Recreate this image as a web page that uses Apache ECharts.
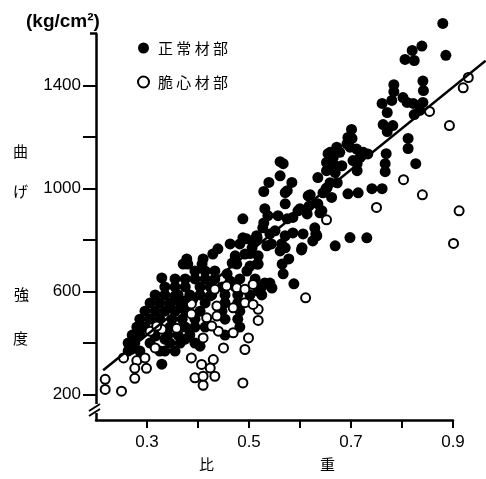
<!DOCTYPE html>
<html>
<head>
<meta charset="utf-8">
<script src="https://cdn.jsdelivr.net/npm/echarts@6/dist/echarts.min.js"></script>
<style>
  html, body { margin: 0; padding: 0; background: #fff; }
  #chart { width: 486px; height: 479px; }
</style>
</head>
<body>
<div id="chart"></div>
<script>
// 比重 vs 曲げ強度 (kg/cm2)
var normalUpper = [
  [0.880,1641],[0.886,1517],[0.839,1553],[0.820,1536],[0.806,1501],[0.824,1497],
  [0.784,1403],[0.784,1376],[0.841,1417],[0.842,1380],[0.802,1353],[0.810,1334],
  [0.822,1330],[0.761,1330],[0.780,1342],[0.841,1334],[0.771,1295],[0.824,1287],
  [0.835,1303],[0.763,1248],[0.782,1244],[0.771,1221],
  [0.701,1229],[0.694,1198],[0.702,1194],[0.692,1173],[0.672,1160],[0.659,1140],
  [0.678,1140],[0.665,1119],[0.711,1153],[0.724,1140],[0.733,1134],[0.652,1101],
  [0.669,1088],[0.704,1108],[0.718,1121],[0.698,1160],[0.655,1135],[0.712,1096],
  [0.712,1069],[0.682,1088],[0.669,1061],[0.673,1022],[0.653,1003],
  [0.812,1194],[0.812,1155],[0.769,1135],[0.767,1096],[0.767,1065],[0.827,1096],
  [0.652,1069],[0.635,1042],[0.659,1022],[0.651,999],[0.662,965],[0.694,979],
  [0.714,983],[0.741,999],[0.761,999],[0.645,983]
];

var normalMiddle = [
  [0.561,1104],[0.561,1049],[0.539,1023],[0.584,1023],[0.529,988],[0.571,984],
  [0.620,975],[0.571,940],[0.531,921],[0.596,913],[0.537,894],[0.557,894],
  [0.575,882],[0.614,901],[0.635,940],[0.643,913],[0.616,971],[0.618,932],
  [0.639,905],[0.600,921],[0.529,866],[0.551,835],[0.571,816],[0.586,827],
  [0.606,823],[0.629,847],[0.633,816],[0.625,796],[0.669,777],[0.698,809],
  [0.731,808],[0.516,808],[0.535,777],[0.604,769],[0.631,823],[0.603,761],
  [0.571,769],[0.578,726],[0.567,668],[0.588,629],[0.565,706],[0.586,887],
  [0.567,1096],[0.575,991],
  [0.488,882],[0.527,847],[0.541,823],[0.515,816],[0.495,804],[0.508,796],
  [0.482,784],[0.463,784],[0.544,784],[0.564,784],[0.439,765],[0.429,745],
  [0.473,738],[0.492,745],[0.502,747],[0.518,738],[0.410,726],[0.378,726],
  [0.488,808],[0.512,804],[0.506,769],[0.518,706],[0.380,706],[0.408,706],
  [0.561,757],[0.541,632],[0.545,613],[0.531,632],[0.457,668],[0.476,706],
  [0.496,679],[0.516,706],[0.329,652],[0.371,706],[0.329,317],[0.270,375],
  [0.502,698],[0.467,710]
];

var normalDense = [
  [0.394,679],[0.414,679],[0.433,679],
  [0.355,648],[0.375,648],[0.394,648],[0.414,648],[0.433,648],[0.463,640],[0.482,648],[0.512,648],
  [0.335,617],[0.355,617],[0.375,617],[0.404,617],[0.424,617],[0.447,617],[0.473,617],[0.525,617],
  [0.518,601],[0.355,582],[0.424,582],
  [0.316,586],[0.335,586],[0.361,586],[0.384,586],[0.404,586],[0.427,586],[0.453,586],[0.478,586],[0.502,586],[0.525,586],
  [0.306,555],[0.325,555],[0.345,555],[0.365,555],[0.390,570],[0.414,555],[0.453,555],[0.478,555],
  [0.345,543],[0.375,562],
  [0.296,523],[0.316,523],[0.335,523],[0.355,523],[0.375,523],[0.404,523],[0.447,523],[0.482,523],
  [0.286,492],[0.306,492],[0.325,492],[0.349,492],[0.369,492],[0.394,492],[0.453,492],[0.478,492],
  [0.280,461],[0.296,461],[0.345,461],[0.375,461],[0.394,461],[0.414,461],[0.482,461],
  [0.286,465],[0.316,426],[0.335,414],[0.375,414],
  [0.271,430],[0.286,430],[0.341,430],[0.361,430],[0.384,430],[0.453,430],
  [0.263,399],[0.276,399],[0.306,399],[0.345,399],[0.365,399],[0.394,399],[0.404,387],
  [0.263,368],[0.286,368],[0.335,368],[0.355,368],[0.325,368]
];

var brittlePoints = [
  [0.218,258],[0.218,219],[0.250,212],[0.254,341],[0.280,331],[0.276,301],[0.276,262],
  [0.299,301],[0.296,341],[0.316,380],[0.329,453],[0.306,445],[0.319,465],[0.358,457],
  [0.387,512],[0.387,551],[0.387,341],[0.394,264],[0.407,316],[0.430,335],[0.424,302],
  [0.410,270],[0.433,270],[0.410,235],[0.450,380],[0.469,439],[0.492,374],[0.499,419],
  [0.488,244],[0.518,530],[0.518,487],[0.410,419],[0.440,445],[0.417,497],[0.437,543],
  [0.469,536],[0.492,556],[0.508,549],[0.437,504],[0.433,608],[0.456,621],[0.476,614],
  [0.492,608],[0.508,627],[0.427,465],
  [0.652,878],[0.611,575],[0.750,926],[0.803,1034],[0.840,975],[0.912,913],[0.901,786],
  [0.893,1244],[0.854,1299],[0.930,1431],[0.920,1391]
];

var regressionLine = [[0.214, 293], [0.964, 1496]];

var xTicks = [0.3, 0.4, 0.5, 0.6, 0.7, 0.8, 0.9];
var xLabels = [0.3, 0.5, 0.7, 0.9];
var yTicks = [200, 400, 600, 800, 1000, 1200, 1400];
var yLabels = [200, 600, 1000, 1400];

var latin = '"Liberation Sans", Arial, sans-serif';
var cjk = '"Noto Sans CJK JP", sans-serif';

// the visible axes end at 0.9; marks live on a wider twin grid with the same scale
// so the points and the fitted line can run past the axis end like the original
var plotLeft = 96, axisRight = 33, chartW = 486;
var xMin = 0.2, xMax = 0.9;
var pxPerUnit = (chartW - plotLeft - axisRight) / (xMax - xMin);
var wideMax = xMin + (chartW - plotLeft) / pxPerUnit;

var chart = echarts.init(document.getElementById('chart'));

var vertText = function (ch, x, y) {
  return {
    type: 'text', left: x, top: y,
    style: { text: ch, font: '15px ' + cjk, fill: '#000' }
  };
};

var hiddenAxis = {
  show: false, splitLine: { show: false }
};

chart.setOption({
  animation: false,
  grid: [
    { left: plotLeft, right: axisRight, top: 34, bottom: 59 },
    { left: plotLeft, right: 0, top: 34, bottom: 59 }
  ],
  legend: {
    orient: 'vertical',
    left: 137, top: 40, padding: 0,
    itemWidth: 11, itemHeight: 11, itemGap: 18,
    icon: 'circle',
    data: ['正常材部', '脆心材部'],
    formatter: function (name) { return name.split('').join(' '); },
    textStyle: { fontFamily: cjk, fontSize: 15, color: '#000', lineHeight: 16, padding: [0, 0, 0, 4] }
  },
  xAxis: [
    {
      type: 'value', min: xMin, max: xMax, gridIndex: 0,
      splitLine: { show: false },
      axisLine: { lineStyle: { color: '#000', width: 2.5 } },
      axisTick: { customValues: xTicks, length: 8, lineStyle: { color: '#000', width: 2 } },
      axisLabel: {
        customValues: xLabels, margin: 14,
        fontFamily: latin, fontSize: 17, color: '#000',
        formatter: function (v) { return v.toFixed(1); }
      }
    },
    Object.assign({ type: 'value', min: xMin, max: wideMax, gridIndex: 1 }, hiddenAxis)
  ],
  yAxis: [
    {
      type: 'value', min: 100, max: 1600, gridIndex: 0,
      splitLine: { show: false },
      axisLine: { lineStyle: { color: '#000', width: 2.5 } },
      axisTick: { customValues: yTicks, length: 13, lineStyle: { color: '#000', width: 2 } },
      axisLabel: {
        customValues: yLabels, margin: 15,
        fontFamily: latin, fontSize: 17, color: '#000',
        formatter: function (v) { return String(v); }
      }
    },
    Object.assign({ type: 'value', min: 100, max: 1600, gridIndex: 1 }, hiddenAxis)
  ],
  graphic: [
    { type: 'text', left: 26, top: 12, style: { text: '(kg/cm²)', font: 'bold 19px ' + latin, fill: '#000' } },
    vertText('曲', 13, 144),
    vertText('げ', 13, 184),
    vertText('強', 14, 287),
    vertText('度', 13, 331),
    vertText('比', 199, 457),
    vertText('重', 320, 457),
    { type: 'line', shape: { x1: 90, y1: 33.5, x2: 97, y2: 33.5 }, style: { stroke: '#000', lineWidth: 2.5 } },
    { type: 'rect', shape: { x: 93, y: 404, width: 8, height: 9 }, style: { fill: '#fff' }, z: 50 },
    { type: 'line', shape: { x1: 89, y1: 411, x2: 100, y2: 404 }, style: { stroke: '#000', lineWidth: 2 }, z: 51 },
    { type: 'line', shape: { x1: 89, y1: 416, x2: 100, y2: 409 }, style: { stroke: '#000', lineWidth: 2 }, z: 51 }
  ],
  series: [
    {
      name: '正常材部', type: 'scatter', symbolSize: 11,
      xAxisIndex: 1, yAxisIndex: 1, clip: false,
      itemStyle: { color: '#000', opacity: 1 },
      data: normalUpper.concat(normalMiddle, normalDense)
    },
    {
      name: '脆心材部', type: 'scatter', symbolSize: 9,
      xAxisIndex: 1, yAxisIndex: 1, clip: false,
      itemStyle: { color: '#fff', borderColor: '#000', borderWidth: 2, opacity: 1 },
      data: brittlePoints
    },
    {
      type: 'line', data: regressionLine, symbol: 'none', clip: false, z: 5,
      xAxisIndex: 1, yAxisIndex: 1,
      lineStyle: { color: '#000', width: 2.5 }
    }
  ]
});
</script>
</body>
</html>
